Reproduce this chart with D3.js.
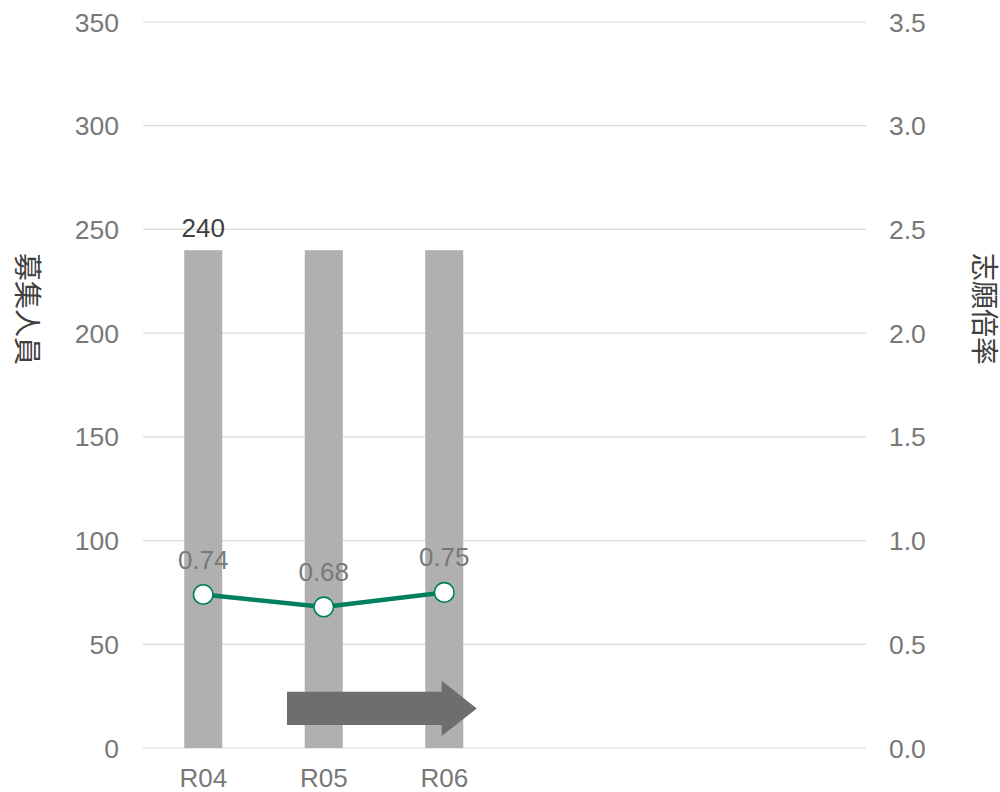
<!DOCTYPE html>
<html><head><meta charset="utf-8">
<script src="https://cdn.jsdelivr.net/npm/d3@7"></script>
<style>
html,body{margin:0;padding:0;background:#fff;}
svg text{font-family:"Liberation Sans",Arial,sans-serif;}
</style></head>
<body><svg id="c" width="1000" height="792"></svg>
<script>
const categories = ["R04","R05","R06"];
const slotCount = 6;
const recruits = [240, 240, 240];
const recruitLabels = ["240", null, null];
const ratios = [0.74, 0.68, 0.75];
const leftTicks = [0,50,100,150,200,250,300,350];
const rightTicks = [0,0.5,1.0,1.5,2.0,2.5,3.0,3.5];
const leftTitle = "募集人員";
const rightTitle = "志願倍率";
// arrow annotation in data units (slot offset, left-axis value)
const arrowX = [0.695, 1.979, 2.27];
const arrowY = [11.1, 27.1, 5.8, 32.4];

const svg = d3.select("#c");
const L = 143, R = 866, T = 22, B = 748;
const x = d3.scaleBand().domain(d3.range(slotCount)).range([L, R]).paddingInner(0).paddingOuter(0);
const slotC = i => x(i) + x.step()/2;
const yL = d3.scaleLinear().domain([0,350]).range([B,T]);
const yR = d3.scaleLinear().domain([0,3.5]).range([B,T]);
const grey = "#787878";

// gridlines
svg.append("g").selectAll("line").data(leftTicks).join("line")
  .attr("x1", L).attr("x2", R).attr("y1", d=>yL(d)).attr("y2", d=>yL(d))
  .attr("stroke", "#d9d9d9").attr("stroke-width", 1.2);

// left ticks
svg.append("g").selectAll("text").data(leftTicks).join("text")
  .attr("x", 119).attr("y", d=>yL(d)+9.5).attr("text-anchor","end")
  .attr("font-size", 26.5).attr("fill", grey).text(d=>d);
// right ticks
svg.append("g").selectAll("text").data(rightTicks).join("text")
  .attr("x", 889).attr("y", d=>yR(d)+9.5).attr("text-anchor","start")
  .attr("font-size", 26.5).attr("fill", grey).text(d=>d3.format(".1f")(d));

// bars
const bw = 38;
svg.append("g").selectAll("rect").data(recruits).join("rect")
  .attr("x", (d,i)=>slotC(i)-bw/2).attr("width", bw)
  .attr("y", d=>yL(d)).attr("height", d=>yL(0)-yL(d))
  .attr("fill", "#b0b0b0");

// bar labels
svg.append("g").selectAll("text").data(recruits).join("text")
  .attr("x", (d,i)=>slotC(i)).attr("y", d=>yL(d)-13).attr("text-anchor","middle")
  .attr("font-size", 26).attr("fill", "#404040").text((d,i)=>recruitLabels[i]||"");

// category labels
svg.append("g").selectAll("text").data(categories).join("text")
  .attr("x", (d,i)=>slotC(i)).attr("y", 787).attr("text-anchor","middle")
  .attr("font-size", 26).attr("fill", grey).text(d=>d);

// arrow
const sx = s => slotC(0) + s * x.step();
const arrowPts = [
  [sx(arrowX[0]), yL(arrowY[0])],
  [sx(arrowX[1]), yL(arrowY[0])],
  [sx(arrowX[1]), yL(arrowY[2])],
  [sx(arrowX[2]), (yL(arrowY[2])+yL(arrowY[3]))/2],
  [sx(arrowX[1]), yL(arrowY[3])],
  [sx(arrowX[1]), yL(arrowY[1])],
  [sx(arrowX[0]), yL(arrowY[1])]
];
svg.append("polygon").attr("points", arrowPts.map(p=>p.join(",")).join(" "))
  .attr("fill", "#6e6e6e");

// line
svg.append("path").datum(ratios)
  .attr("d", d3.line().x((d,i)=>slotC(i)).y(d=>yR(d)))
  .attr("fill","none").attr("stroke","#00805e").attr("stroke-width",4.5);
svg.append("g").selectAll("circle").data(ratios).join("circle")
  .attr("cx", (d,i)=>slotC(i)).attr("cy", d=>yR(d)).attr("r", 9.8)
  .attr("fill","#fff").attr("stroke","#00805e").attr("stroke-width",1.6);
svg.append("g").selectAll("text").data(ratios).join("text")
  .attr("x", (d,i)=>slotC(i)).attr("y", d=>yR(d)-26).attr("text-anchor","middle")
  .attr("font-size", 26).attr("fill", grey).text(d=>d3.format(".2f")(d));

// axis titles
svg.append("text").attr("transform","translate(17,309) rotate(90)")
  .attr("text-anchor","middle").attr("font-size",28).attr("fill","#404040")
  .style("font-family","'Noto Sans CJK JP',sans-serif").text(leftTitle);
svg.append("text").attr("transform","translate(974,309) rotate(90)")
  .attr("text-anchor","middle").attr("font-size",28).attr("fill","#404040")
  .style("font-family","'Noto Sans CJK JP',sans-serif").text(rightTitle);
</script></body></html>
